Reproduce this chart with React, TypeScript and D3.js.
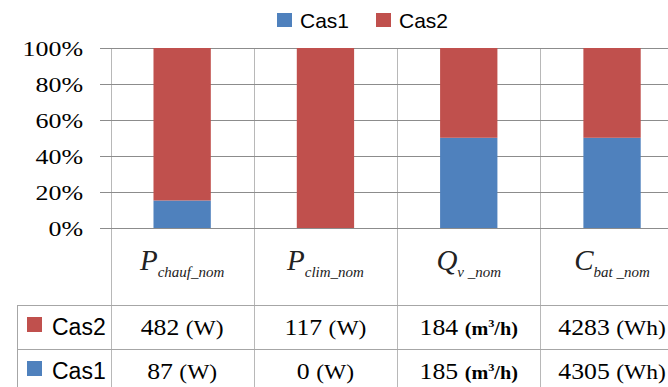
import React from "react";
import * as d3 from "d3";

const categoryMain = ["P", "P", "Q", "C"];
const categorySub = ["chauf_nom", "clim_nom", "v _nom", "bat _nom"];
const cas1 = [87, 0, 185, 4305];
const cas2 = [482, 117, 184, 4283];
const units = ["W", "W", "m3/h", "Wh"];
const yTicks = [0, 0.2, 0.4, 0.6, 0.8, 1];
const seriesNames = ["Cas1", "Cas2"];

const BLUE = "#4f81bd";
const RED = "#c0504d";
const W = 668;
const H = 387;

export default function App() {
  const left = 110.5;
  const colW = 143.3;
  const plotTop = 48;
  const plotBottom = 228;
  const rowTops = [305, 349];
  const tableLeft = 17;
  const tableBottom = 400;

  const idx = categoryMain.map((_, i) => String(i));
  const x = d3.scaleBand<string>().domain(idx).range([left, left + colW * idx.length]).padding(0);
  const y = d3.scaleLinear().domain([0, 1]).range([plotBottom, plotTop]);
  const rows = idx.map((k, i) => ({ key: k, cas1: cas1[i], cas2: cas2[i] }));
  const stack = d3.stack<any>().keys(["cas1", "cas2"]).offset(d3.stackOffsetExpand);
  const stacked = stack(rows);
  const bw = x.bandwidth() * 0.4;
  const bOff = x.bandwidth() * 0.3;
  const colors = [BLUE, RED];

  const serif = "'Liberation Serif', 'Times New Roman', serif";
  const sans = "'Liberation Sans', Arial, sans-serif";

  const renderValue = (v: number, u: string) => {
    if (u === "m3/h") {
      return (
        <>
          <tspan>{v} </tspan>
          <tspan fontWeight="bold" fontSize={18}>(m</tspan>
          <tspan fontWeight="bold" fontSize={11} dy={-8}>3</tspan>
          <tspan fontWeight="bold" fontSize={18} dy={8}>/h)</tspan>
        </>
      );
    }
    return (
      <>
        <tspan>{v} </tspan>
        <tspan fontSize={21}>({u})</tspan>
      </>
    );
  };

  const tableRows = [
    { name: "Cas2", color: RED, values: cas2 },
    { name: "Cas1", color: BLUE, values: cas1 },
  ];

  return (
    <svg width={W} height={H} style={{ position: "absolute", left: 0, top: 0, background: "#fff" }}>
      <rect width={W} height={H} fill="#fff" />
      {idx.map((k) => (
        <line key={"v" + k} x1={Math.round(x(k)!) + 0.5} x2={Math.round(x(k)!) + 0.5} y1={plotTop} y2={tableBottom} stroke="#b8b8b8" strokeWidth={1} />
      ))}
      <line x1={Math.round(left + colW * idx.length) + 0.5} x2={Math.round(left + colW * idx.length) + 0.5} y1={plotTop} y2={tableBottom} stroke="#b8b8b8" />
      {yTicks.map((t) => (
        <line key={"h" + t} x1={100} x2={W + 20} y1={Math.round(y(t)) + 0.5} y2={Math.round(y(t)) + 0.5} stroke="#8c8c8c" strokeWidth={1} />
      ))}
      {stacked.map((s, si) =>
        s.map((d, i) => (
          <rect
            key={si + "-" + i}
            x={x(idx[i])! + bOff}
            y={y(d[1])}
            width={bw}
            height={Math.max(0, y(d[0]) - y(d[1]))}
            fill={colors[si]}
          />
        ))
      )}
      {yTicks.map((t) => (
        <text
          key={"yl" + t}
          transform={`translate(83,${y(t) + 8}) scale(1.18,1)`}
          textAnchor="end"
          fontFamily={serif}
          fontSize={22}
          fill="#000"
        >
          {Math.round(t * 100)}%
        </text>
      ))}
      {seriesNames.map((n, i) => (
        <g key={n} transform={`translate(${277 + i * 99},0)`}>
          <rect x={0} y={13} width={15} height={14} fill={colors[i]} />
          <text x={23} y={28} fontFamily={sans} fontSize={21} fill="#000">
            {n}
          </text>
        </g>
      ))}
      {rowTops.map((r) => (
        <line key={"tr" + r} x1={tableLeft} x2={W + 20} y1={r + 0.5} y2={r + 0.5} stroke="#a6a6a6" />
      ))}
      <line x1={tableLeft + 0.5} x2={tableLeft + 0.5} y1={rowTops[0]} y2={tableBottom} stroke="#a6a6a6" />
      {idx.map((k, i) => (
        <text key={"hd" + k} x={x(k)! + x.bandwidth() / 2} y={270} textAnchor="middle" fontFamily={serif} fontStyle="italic" fill="#222">
          <tspan fontSize={29}>{categoryMain[i]}</tspan>
          <tspan fontSize={15} dy={7}>{categorySub[i]}</tspan>
        </text>
      ))}
      {tableRows.map((row, ri) => (
        <g key={row.name}>
          <rect x={27} y={rowTops[ri] + 12} width={15} height={15} fill={row.color} />
          <text x={52} y={rowTops[ri] + 30} fontFamily={sans} fontSize={23} fill="#000">
            {row.name}
          </text>
          {row.values.map((v, i) => (
            <text
              key={i}
              transform={`translate(${x(idx[i])! + x.bandwidth() / 2},${rowTops[ri] + 30}) scale(1.12,1)`}
              textAnchor="middle"
              fontFamily={serif}
              fontSize={23}
              fill="#000"
            >
              {renderValue(v, units[i])}
            </text>
          ))}
        </g>
      ))}
    </svg>
  );
}
